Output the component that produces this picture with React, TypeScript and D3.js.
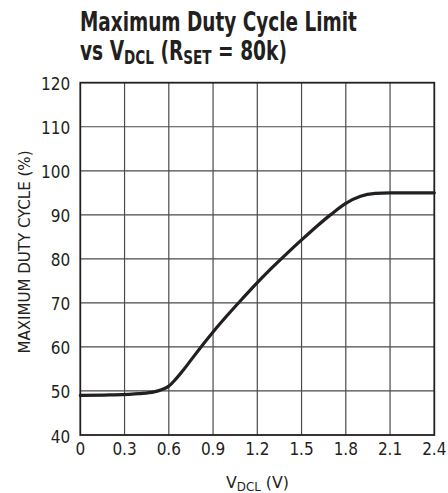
import { useEffect, useRef } from 'react';
import * as d3 from 'd3';

// curve: V_DCL (V) -> max duty cycle (%)
const vdcl = [0, 0.2, 0.4, 0.5, 0.55, 0.6, 0.65, 0.7, 0.75, 0.8, 0.9, 1.0, 1.1, 1.2, 1.3, 1.4, 1.5, 1.6, 1.7, 1.8, 1.9, 2.0, 2.1, 2.2, 2.4];
const duty = [49.0, 49.1, 49.4, 49.8, 50.3, 51.1, 52.8, 54.8, 57.0, 59.2, 63.4, 67.3, 71.0, 74.6, 78.0, 81.2, 84.3, 87.3, 90.1, 92.6, 94.2, 94.85, 95.0, 95.0, 95.0];

const xTicks = [0, 0.3, 0.6, 0.9, 1.2, 1.5, 1.8, 2.1, 2.4];
const yTicks = [40, 50, 60, 70, 80, 90, 100, 110, 120];

const W = 448;
const H = 493;
const FONT = '"Liberation Sans Narrow", "DejaVu Sans Condensed", "Liberation Sans", sans-serif';

// squeeze a text horizontally so it spans `width` px starting at x0
function fitWidth(sel: d3.Selection<SVGTextElement, unknown, null, undefined>, x0: number, y0: number, width: number) {
  const node = sel.node();
  if (!node) return;
  const w = node.getBBox().width;
  sel.attr('transform', `translate(${x0}, ${y0}) scale(${width / w}, 1)`);
}

export default function App() {
  const ref = useRef<SVGSVGElement | null>(null);

  useEffect(() => {
    const svg = d3.select(ref.current);
    svg.selectAll('*').remove();

    const margin = { top: 82.7, right: 448 - 434.3, bottom: 493 - 435, left: 80.3 };

    const x = d3.scaleLinear().domain([0, 2.4]).range([margin.left, W - margin.right]);
    const y = d3.scaleLinear().domain([40, 120]).range([H - margin.bottom, margin.top]);

    // grid
    const grid = svg.append('g').attr('stroke', '#4a4a4a').attr('stroke-width', 1.2);
    grid.selectAll('line.v')
      .data(xTicks.slice(1, -1))
      .enter()
      .append('line')
      .attr('x1', d => x(d)).attr('x2', d => x(d))
      .attr('y1', y(40)).attr('y2', y(120));
    grid.selectAll('line.h')
      .data(yTicks.slice(1, -1))
      .enter()
      .append('line')
      .attr('x1', x(0)).attr('x2', x(2.4))
      .attr('y1', d => y(d)).attr('y2', d => y(d));

    // frame
    svg.append('rect')
      .attr('x', x(0)).attr('y', y(120))
      .attr('width', x(2.4) - x(0)).attr('height', y(40) - y(120))
      .attr('fill', 'none').attr('stroke', '#231f20').attr('stroke-width', 1.8);

    // tick labels
    svg.append('g')
      .selectAll('text')
      .data(yTicks)
      .enter()
      .append('text')
      .attr('x', x(0) - 10)
      .attr('y', d => y(d) + 7.5)
      .attr('text-anchor', 'end')
      .style('font-family', FONT).style('font-size', '17px').attr('fill', '#231f20')
      .text(d => d);

    svg.append('g')
      .selectAll('text')
      .data(xTicks)
      .enter()
      .append('text')
      .attr('x', d => x(d))
      .attr('y', y(40) + 20)
      .attr('text-anchor', 'middle')
      .style('font-family', FONT).style('font-size', '17px').attr('fill', '#231f20')
      .text(d => d);

    // curve
    const pts = vdcl.map((v, i) => [v, duty[i]] as [number, number]);
    const line = d3.line<[number, number]>()
      .x(d => x(d[0]))
      .y(d => y(d[1]))
      .curve(d3.curveMonotoneX);
    svg.append('path')
      .datum(pts)
      .attr('d', line)
      .attr('fill', 'none')
      .attr('stroke', '#231f20')
      .attr('stroke-width', 3.2)
      .attr('stroke-linecap', 'round');

    // axis titles
    const xt = svg.append('text')
      .style('font-family', FONT).style('font-size', '16px').attr('fill', '#231f20');
    xt.append('tspan').text('V');
    xt.append('tspan').attr('dy', 3).style('font-size', '12px').text('DCL');
    xt.append('tspan').attr('dy', -3).text(' (V)');
    fitWidth(xt, 226, 488, 63);

    svg.append('text')
      .attr('transform', `translate(30, 252) rotate(-90)`)
      .attr('text-anchor', 'middle')
      .attr('textLength', 203)
      .attr('lengthAdjust', 'spacingAndGlyphs')
      .style('font-family', FONT).style('font-size', '15px').attr('fill', '#231f20')
      .text('MAXIMUM DUTY CYCLE (%)');

    // chart title
    const title = svg.append('g')
      .style('font-family', FONT).style('font-weight', 'bold').style('font-size', '26px').attr('fill', '#231f20');
    const t1 = title.append('text').text('Maximum Duty Cycle Limit');
    fitWidth(t1, 80, 30.5, 277);
    const t2 = title.append('text');
    t2.append('tspan').text('vs V');
    t2.append('tspan').attr('dy', 4).style('font-size', '19px').text('DCL');
    t2.append('tspan').attr('dy', -4).text(' (R');
    t2.append('tspan').attr('dy', 4).style('font-size', '19px').text('SET');
    t2.append('tspan').attr('dy', -4).text(' = 80k)');
    fitWidth(t2, 80, 59.5, 207);
  }, []);

  return (
    <svg
      ref={ref}
      width={W}
      height={H}
      style={{ position: 'absolute', left: 0, top: 0, background: '#fff' }}
    />
  );
}
